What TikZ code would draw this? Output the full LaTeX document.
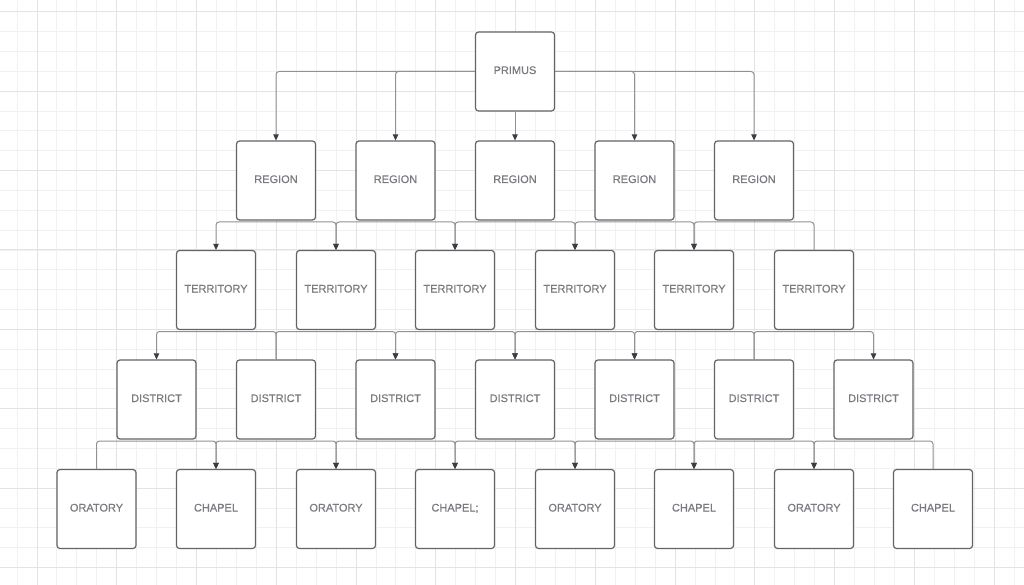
\documentclass[tikz,border=0pt]{standalone}
\usepackage{fontspec}
\setmainfont{Liberation Sans}
\newfontfamily\boxfont[FakeBold=0.35]{Liberation Sans}
\usetikzlibrary{arrows.meta}
\definecolor{gridminor}{HTML}{F1F1F1}
\definecolor{gridmajor}{HTML}{E3E3E3}
\definecolor{boxline}{HTML}{636369}
\definecolor{txt}{HTML}{7A7A81}
\definecolor{conn}{HTML}{929296}
\definecolor{tip}{HTML}{3C3C42}
\tikzset{
  box/.style={draw=boxline, line width=1.2pt, fill=white, rounded corners=3pt,
    minimum width=79pt, minimum height=79pt, inner sep=0pt, text=txt,
    text height=8pt, text depth=3pt,
    font=\boxfont\fontsize{11}{13}\selectfont},
  link/.style={draw=conn, line width=1pt, rounded corners=3pt},
  arr/.style={link, -{Triangle[length=6pt,width=5.5pt,color=tip]}},
}
\begin{document}
\begin{tikzpicture}[x=1pt,y=-1pt]
\fill[white] (0,0) rectangle (1024,585);
\useasboundingbox (0,0) rectangle (1024,585);
\begin{scope}
\clip (0,0) rectangle (1024,585);
\foreach \k in {0,...,51} \draw[gridminor, line width=0.8pt] ({17+19.94*\k},0) -- ({17+19.94*\k},585);
\foreach \k in {0,...,29} \draw[gridminor, line width=0.8pt] (0,{11.7+19.85*\k}) -- (1024,{11.7+19.85*\k});
\foreach \k in {0,...,12} \draw[gridmajor, line width=1pt] ({37+79.76*\k},0) -- ({37+79.76*\k},585);
\foreach \k in {0,...,7} \draw[gridmajor, line width=1pt] (0,{11.7+79.4*\k}) -- (1024,{11.7+79.4*\k});
\end{scope}

% nodes
\node[box] (p) at (515,71.5) {PRIMUS};

\node[box] (r1) at (276,180.5) {REGION};
\node[box] (r2) at (395.5,180.5) {REGION};
\node[box] (r3) at (515,180.5) {REGION};
\node[box] (r4) at (634.5,180.5) {REGION};
\node[box] (r5) at (754,180.5) {REGION};

\node[box] (t1) at (216,290) {TERRITORY};
\node[box] (t2) at (336,290) {TERRITORY};
\node[box] (t3) at (455,290) {TERRITORY};
\node[box] (t4) at (575,290) {TERRITORY};
\node[box] (t5) at (694,290) {TERRITORY};
\node[box] (t6) at (814,290) {TERRITORY};

\node[box] (d1) at (156.5,399.5) {DISTRICT};
\node[box] (d2) at (276,399.5) {DISTRICT};
\node[box] (d3) at (395.5,399.5) {DISTRICT};
\node[box] (d4) at (515,399.5) {DISTRICT};
\node[box] (d5) at (634.5,399.5) {DISTRICT};
\node[box] (d6) at (754,399.5) {DISTRICT};
\node[box] (d7) at (873.5,399.5) {DISTRICT};

\node[box] (b1) at (96.5,509) {ORATORY};
\node[box] (b2) at (216,509) {CHAPEL};
\node[box] (b3) at (336,509) {ORATORY};
\node[box] (b4) at (455,509) {CHAPEL;};
\node[box] (b5) at (575,509) {ORATORY};
\node[box] (b6) at (694,509) {CHAPEL};
\node[box] (b7) at (814,509) {ORATORY};
\node[box] (b8) at (933,509) {CHAPEL};

% bus levels
\coordinate (busA) at (0,222);
\coordinate (busB) at (0,331.5);
\coordinate (busC) at (0,441);

% primus -> regions
\draw[arr] (p.west) -| (r1.north);
\draw[arr] (p.west) -| (r2.north);
\draw[arr] (p.south) -- (r3.north);
\draw[arr] (p.east) -| (r4.north);
\draw[arr] (p.east) -| (r5.north);

% regions -> territories
\draw[arr] (r1.south |- busA) -| (t1.north);
\draw[arr] (r1.south |- busA) -| (t2.north);
\draw[arr] (r2.south |- busA) -| (t2.north);
\draw[arr] (r2.south |- busA) -| (t3.north);
\draw[arr] (r3.south |- busA) -| (t3.north);
\draw[arr] (r3.south |- busA) -| (t4.north);
\draw[arr] (r4.south |- busA) -| (t4.north);
\draw[arr] (r4.south |- busA) -| (t5.north);
\draw[arr] (r5.south |- busA) -| (t5.north);
\draw[link] (r5.south |- busA) -| (t6.north);

% territories -> districts
\draw[arr] (t1.south |- busB) -| (d1.north);
\draw[link] (t1.south |- busB) -| (d2.north);
\draw[link] (t2.south |- busB) -| (d2.north);
\draw[arr] (t2.south |- busB) -| (d3.north);
\draw[arr] (t3.south |- busB) -| (d3.north);
\draw[arr] (t3.south |- busB) -| (d4.north);
\draw[arr] (t4.south |- busB) -| (d4.north);
\draw[arr] (t4.south |- busB) -| (d5.north);
\draw[arr] (t5.south |- busB) -| (d5.north);
\draw[link] (t5.south |- busB) -| (d6.north);
\draw[link] (t6.south |- busB) -| (d6.north);
\draw[arr] (t6.south |- busB) -| (d7.north);

% districts -> bottom
\draw[link] (d1.south |- busC) -| (b1.north);
\draw[arr] (d1.south |- busC) -| (b2.north);
\draw[arr] (d2.south |- busC) -| (b2.north);
\draw[arr] (d2.south |- busC) -| (b3.north);
\draw[arr] (d3.south |- busC) -| (b3.north);
\draw[arr] (d3.south |- busC) -| (b4.north);
\draw[arr] (d4.south |- busC) -| (b4.north);
\draw[arr] (d4.south |- busC) -| (b5.north);
\draw[arr] (d5.south |- busC) -| (b5.north);
\draw[arr] (d5.south |- busC) -| (b6.north);
\draw[arr] (d6.south |- busC) -| (b6.north);
\draw[arr] (d6.south |- busC) -| (b7.north);
\draw[arr] (d7.south |- busC) -| (b7.north);
\draw[link] (d7.south |- busC) -| (b8.north);
\end{tikzpicture}
\end{document}
